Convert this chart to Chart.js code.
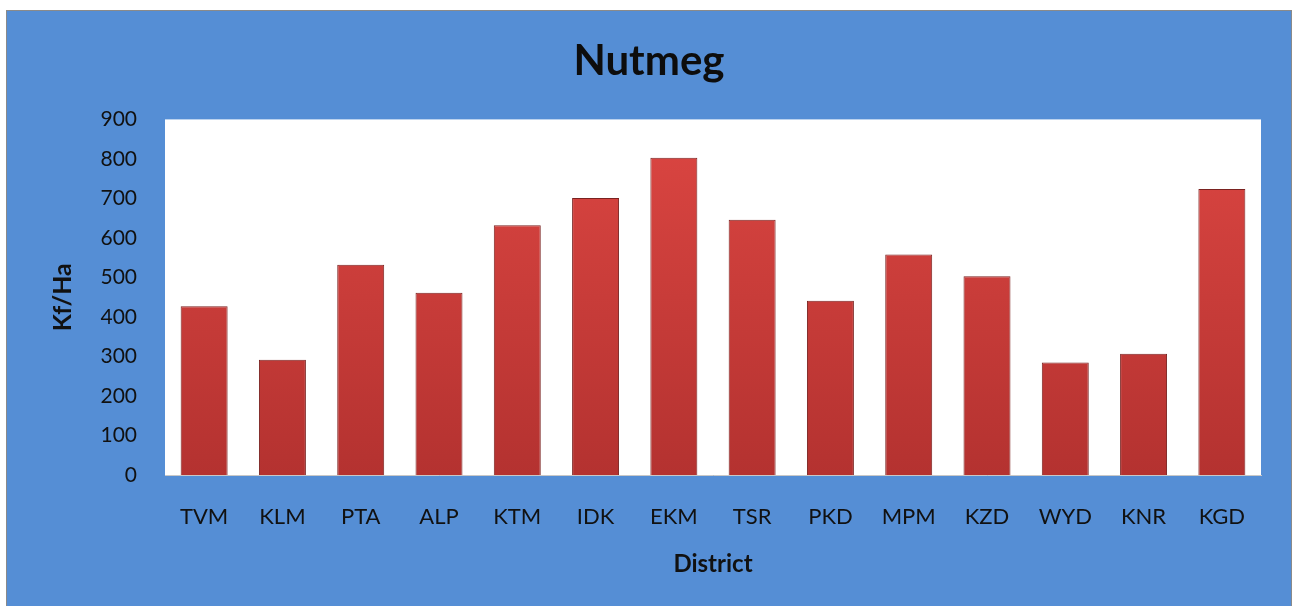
<!DOCTYPE html>
<html>
<head>
<meta charset="utf-8">
<script src="https://cdn.jsdelivr.net/npm/chart.js@4"></script>
<style>
  body { margin: 0; background: #fff; }
  #frame {
    position: absolute; left: 6px; top: 10px;
    width: 1284px; height: 595px;
    border: 1px solid #8a8a8a; border-bottom: none;
    background: #558ed5;
  }
</style>
</head>
<body>
<div id="frame"><canvas id="myChart" width="1284" height="595"></canvas></div>
<script>
  // data
  const districts = ['TVM', 'KLM', 'PTA', 'ALP', 'KTM', 'IDK', 'EKM', 'TSR', 'PKD', 'MPM', 'KZD', 'WYD', 'KNR', 'KGD']
  const yieldKfHa = [427, 292, 532, 461, 632, 701, 803, 646, 441, 558, 503, 285, 307, 724]
  const yTicks = [0, 100, 200, 300, 400, 500, 600, 700, 800, 900]

  const font = 'Lato, "Open Sans", sans-serif'

  // white plot area
  const plotBg = {
    id: 'plotBg',
    beforeDraw(chart) {
      const { ctx, chartArea: a } = chart
      ctx.save()
      ctx.fillStyle = '#ffffff'
      ctx.fillRect(a.left, a.top, a.right - a.left, a.bottom - a.top)
      ctx.restore()
    }
  }

  const barFill = (context) => {
    const { chart } = context
    const a = chart.chartArea
    if (!a) return '#cc3b36'
    const g = chart.ctx.createLinearGradient(0, a.top, 0, a.bottom)
    g.addColorStop(0, '#dc4642')
    g.addColorStop(1, '#b43230')
    return g
  }

  const ctx = document.getElementById('myChart')
  new Chart(ctx, {
    type: 'bar',
    data: {
      labels: districts,
      datasets: [{
        data: yieldKfHa,
        backgroundColor: barFill,
        borderColor: '#7a2220',
        borderWidth: 1,
        barPercentage: 0.6,
        categoryPercentage: 1
      }]
    },
    options: {
      responsive: false,
      animation: false,
      layout: { padding: 0 },
      plugins: {
        legend: { display: false },
        tooltip: { enabled: false },
        title: {
          display: true,
          text: 'Nutmeg',
          color: '#0d0d0d',
          font: { family: font, size: 42, weight: 'bold', lineHeight: 1.2 },
          padding: { top: 25, bottom: 33 }
        }
      },
      scales: {
        x: {
          grid: { display: false, drawTicks: false },
          border: { display: true, color: '#c8c8c8' },
          ticks: { color: '#111', padding: 29, font: { family: font, size: 22 } },
          title: {
            display: true, text: 'District', color: '#111',
            font: { family: font, size: 24, weight: 'bold', lineHeight: 1.2 },
            padding: { top: 0, bottom: 27 }
          },
          afterFit(scale) { scale.height = 131 }
        },
        y: {
          min: 0,
          max: 900,
          afterBuildTicks(scale) { scale.ticks = yTicks.map(v => ({ value: v })) },
          grid: { display: false, drawTicks: false },
          border: { display: false },
          ticks: { color: '#111', padding: 28, font: { family: font, size: 21 } },
          title: {
            display: true, text: 'Kf/Ha', color: '#111',
            font: { family: font, size: 25, weight: 'bold', lineHeight: 1.2 },
            padding: { top: 41, bottom: 0 }
          },
          afterFit(scale) { scale.width = 158 }
        },
        // empty right margin so the title stays centred on the whole frame
        yRight: {
          position: 'right',
          display: true,
          min: 0,
          max: 900,
          grid: { display: false, drawTicks: false },
          border: { display: false },
          ticks: { display: false },
          afterFit(scale) { scale.width = 30 }
        }
      }
    },
    plugins: [plotBg]
  })
</script>
</body>
</html>
